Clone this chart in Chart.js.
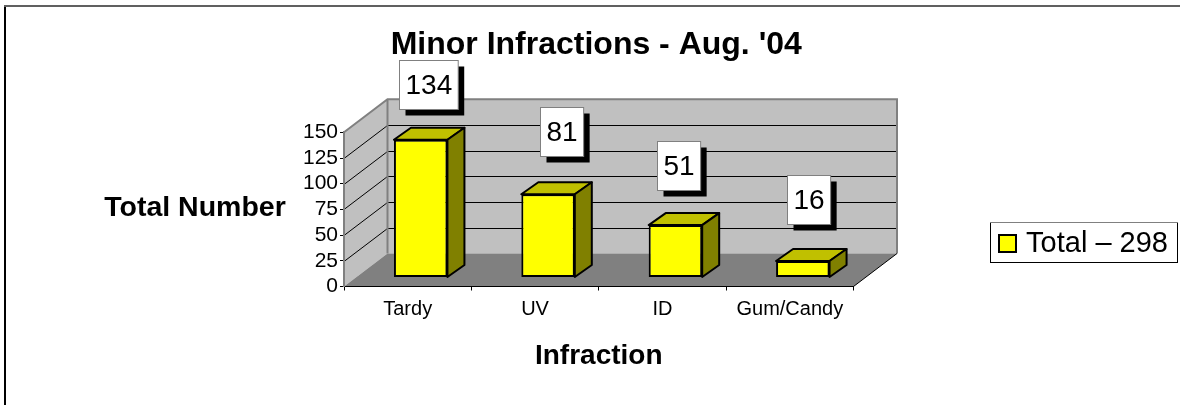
<!DOCTYPE html>
<html>
<head>
<meta charset="utf-8">
<style>
html,body{margin:0;padding:0;background:#fff;overflow:hidden}
#wrap{position:relative;width:1180px;height:405px}
</style>
<script src="https://cdn.jsdelivr.net/npm/chart.js@4/dist/chart.umd.min.js"></script>
</head>
<body>
<div id="wrap"><canvas id="c" width="1180" height="405"></canvas></div>
<script>
const categories = ['Tardy', 'UV', 'ID', 'Gum/Candy'];
const totals = [134, 81, 51, 16];
const seriesLabel = 'Total \u2013 298';
const yTicks = [0, 25, 50, 75, 100, 125, 150];
const chartTitle = "Minor Infractions - Aug. '04";
const yTitle = 'Total Number';
const xTitle = 'Infraction';

const FONT = '"Liberation Sans", Arial, sans-serif';
const WALL_DX = 43.5, WALL_DY = 33;
const BAR_DX = 13, BAR_DY = 9;
const DEPTH_X = 17, DEPTH_Y = 12;
// hand-placed data label boxes: shift from bar centre, gap above bar top
const LABEL_SHIFT = [7.7, 13.4, 3.3, 5.7];
const LABEL_GAP = [31, 38.7, 35, 37.4];

function poly(ctx, pts, fill, stroke, lw) {
  ctx.beginPath();
  pts.forEach((p, i) => i ? ctx.lineTo(p[0], p[1]) : ctx.moveTo(p[0], p[1]));
  ctx.closePath();
  if (fill) { ctx.fillStyle = fill; ctx.fill(); }
  if (stroke) { ctx.strokeStyle = stroke; ctx.lineWidth = lw; ctx.lineJoin = 'round'; ctx.stroke(); }
}

const scene = {
  id: 'scene',
  beforeDraw(chart) {
    const { ctx, chartArea: a, scales: { y } } = chart;
    chart.titleBlock.left -= 2.5; chart.titleBlock.right -= 2.5;
    const lg = chart.legend;
    lg.left = 989; lg.right = 1168; lg.top = 219; lg.bottom = 264; lg.width = 179; lg.height = 45;

    ctx.save();
    // outer frame
    ctx.strokeStyle = '#000'; ctx.lineWidth = 2;
    ctx.beginPath(); ctx.moveTo(5, 405); ctx.lineTo(5, 6); ctx.stroke();
    ctx.strokeStyle = '#606060';
    ctx.beginPath(); ctx.moveTo(4, 6); ctx.lineTo(1180, 6); ctx.stroke();

    const L = a.left, R = a.right, T = a.top, B = a.bottom;
    const dx = WALL_DX, dy = WALL_DY;
    poly(ctx, [[L, T], [L + dx, T - dy], [L + dx, B - dy], [L, B]], '#c0c0c0');
    poly(ctx, [[L + dx, T - dy], [R + dx, T - dy], [R + dx, B - dy], [L + dx, B - dy]], '#c0c0c0');
    poly(ctx, [[L, B], [L + dx, B - dy], [R + dx, B - dy], [R, B]], '#808080');
    ctx.strokeStyle = '#000'; ctx.lineWidth = 1;
    yTicks.forEach(v => {
      if (v === 0 || v === 150) return;
      const py = Math.round(y.getPixelForValue(v)) + 0.5;
      ctx.beginPath();
      ctx.moveTo(L, py); ctx.lineTo(L + dx, py - dy); ctx.lineTo(R + dx, py - dy);
      ctx.stroke();
    });
    ctx.strokeStyle = '#808080'; ctx.lineWidth = 2;
    ctx.beginPath();
    ctx.moveTo(L, T); ctx.lineTo(L + dx, T - dy); ctx.lineTo(R + dx, T - dy); ctx.lineTo(R + dx, B - dy);
    ctx.moveTo(L + dx, T - dy); ctx.lineTo(L + dx, B - dy);
    ctx.stroke();
    ctx.strokeStyle = '#000'; ctx.lineWidth = 1;
    ctx.beginPath(); ctx.moveTo(R, B); ctx.lineTo(R + dx, B - dy); ctx.stroke();
    ctx.fillStyle = '#000'; ctx.font = 'bold 28.5px ' + FONT;
    ctx.textAlign = 'center'; ctx.textBaseline = 'middle';
    ctx.fillText(yTitle, 195, 208.5);
    ctx.restore();
  },
  beforeDatasetsDraw(chart) {
    const { ctx } = chart;
    ctx.save();
    ctx.translate(BAR_DX, BAR_DY * -1);
    chart.getDatasetMeta(0).data.forEach(bar => {
      const l = bar.x - bar.width / 2, r = bar.x + bar.width / 2, t = bar.y, b = bar.base;
      poly(ctx, [[l, t], [l + DEPTH_X, t - DEPTH_Y], [r + DEPTH_X, t - DEPTH_Y], [r, t]], '#c0c000', '#000', 2);
      poly(ctx, [[r, t], [r + DEPTH_X, t - DEPTH_Y], [r + DEPTH_X, b - DEPTH_Y], [r, b]], '#808000', '#000', 2);
    });
  },
  afterDatasetsDraw(chart) {
    const { ctx } = chart;
    ctx.restore();
    ctx.save();
    ctx.font = '28px ' + FONT;
    ctx.textAlign = 'center'; ctx.textBaseline = 'middle';
    chart.getDatasetMeta(0).data.forEach((bar, i) => {
      const text = String(totals[i]);
      const w = ctx.measureText(text).width + 12, h = 49;
      const cx = bar.x + BAR_DX + LABEL_SHIFT[i], bottom = bar.y - BAR_DY + LABEL_GAP[i] * -1;
      const x = Math.round(cx - w / 2) + 0.5, y = Math.round(bottom - h) + 0.5;
      ctx.fillStyle = '#000'; ctx.fillRect(x + 6, y + 6, w, h);
      ctx.fillStyle = '#fff'; ctx.fillRect(x, y, w, h);
      ctx.strokeStyle = '#808080'; ctx.lineWidth = 1; ctx.strokeRect(x, y, w, h);
      ctx.fillStyle = '#000'; ctx.fillText(text, x + w / 2, y + h / 2 + 1);
    });
    ctx.strokeStyle = '#000'; ctx.lineWidth = 1;
    ctx.strokeRect(990.5, 222.5, 187, 40);
    ctx.strokeStyle = '#808080';
    ctx.beginPath(); ctx.moveTo(990, 222.5); ctx.lineTo(1178, 222.5); ctx.stroke();
    ctx.restore();
  }
};

new Chart(document.getElementById('c'), {
  type: 'bar',
  data: {
    labels: categories,
    datasets: [{
      label: seriesLabel,
      data: totals,
      backgroundColor: '#ffff00',
      borderColor: '#000',
      borderWidth: 2,
      borderSkipped: false,
      barPercentage: 1,
      categoryPercentage: 0.42,
      clip: false
    }]
  },
  plugins: [scene],
  options: {
    responsive: false,
    animation: false,
    events: [],
    layout: { padding: { left: 0, right: 326.5, top: 0, bottom: 0 } },
    plugins: {
      tooltip: { enabled: false },
      title: {
        display: true, text: chartTitle, color: '#000', fullSize: false,
        font: { family: FONT, size: 32, weight: 'bold', lineHeight: 1.2 },
        padding: { top: 26, bottom: 67.9 }
      },
      legend: {
        display: true, position: 'chartArea', align: 'start',
        labels: {
          color: '#000', boxWidth: 17, boxHeight: 17, padding: 10, textAlign: 'right',
          font: { family: FONT, size: 29 }
        }
      }
    },
    scales: {
      x: {
        grid: { drawOnChartArea: false, drawTicks: true, tickLength: 4, color: '#000' },
        border: { color: '#000', width: 1 },
        ticks: { color: '#000', font: { family: FONT, size: 20 }, padding: 7, maxRotation: 0, autoSkip: false },
        title: { display: true, text: xTitle, color: '#000', font: { family: FONT, size: 28, weight: 'bold' }, padding: { bottom: 32 } },
        afterFit(s) { s.height = 118.5; }
      },
      y: {
        min: 0, max: 150,
        afterBuildTicks(s) { s.ticks = yTicks.map(v => ({ value: v })); },
        grid: { drawOnChartArea: false, drawTicks: true, tickLength: 4, color: '#000' },
        border: { color: '#808080', width: 2 },
        ticks: { color: '#000', font: { family: FONT, size: 21 }, padding: 2, autoSkip: false },
        afterFit(s) { s.width = 344; }
      }
    }
  }
});
</script>
</body>
</html>
